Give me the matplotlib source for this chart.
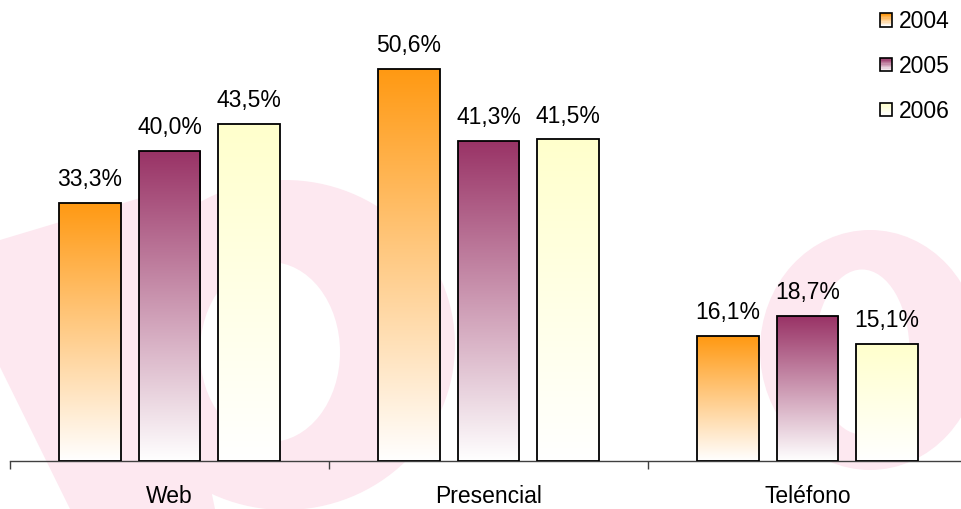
import numpy as np
import matplotlib
matplotlib.use("Agg")
import matplotlib.pyplot as plt
from matplotlib.patches import Rectangle, Polygon, Ellipse, Patch
from matplotlib.legend_handler import HandlerBase
from matplotlib.colors import to_rgb

# ---- data ----
categories = ["Web", "Presencial", "Teléfono"]
years = ["2004", "2005", "2006"]
v2004 = [33.3, 50.6, 16.1]
v2005 = [40.0, 41.3, 18.7]
v2006 = [43.5, 41.5, 15.1]
series = [v2004, v2005, v2006]
top_colors = ["#ff9912", "#993366", "#ffffcc"]

plt.rcParams['font.family'] = ['Liberation Sans', 'DejaVu Sans']
FS = 16.5

fig = plt.figure(figsize=(9.62, 5.09), dpi=100)

# ---- faint watermark background (pixel coordinates) ----
bg = fig.add_axes([0, 0, 1, 1], zorder=-5)
bg.set_xlim(0, 962); bg.set_ylim(509, 0); bg.axis('off')
pink = '#fde8f0'
bg.add_patch(Polygon([(0, 240), (150, 195), (215, 509), (70, 509), (0, 367)],
                     closed=True, fc=pink, ec='none'))
bg.add_patch(Ellipse((285, 345), 340, 330, fc=pink, ec='none'))
bg.add_patch(Ellipse((270, 352), 140, 180, fc='white', ec='none'))
bg.add_patch(Ellipse((870, 350), 220, 240, fc=pink, ec='none'))
bg.add_patch(Ellipse((862, 352), 95, 165, fc='white', ec='none'))

# ---- main axes ----
left_px, right_px = 10, 967
base_px = 461
ax = fig.add_axes([left_px / 962, (509 - base_px) / 509,
                   (right_px - left_px) / 962, base_px / 509], zorder=1)
ax.set_facecolor('none')

x = np.arange(len(categories))
width = 0.194
pitch = 0.25
offsets = [-pitch, 0, pitch]

N = 256
for s, (vals, col, off) in enumerate(zip(series, top_colors, offsets)):
    c = np.array(to_rgb(col))
    t = np.linspace(0, 1, N)[:, None]  # 0 top -> 1 bottom
    grad = c[None, :] * (1 - t) + np.ones(3)[None, :] * t
    img = grad[:, None, :]
    bars = ax.bar(x + off, vals, width, facecolor='none', edgecolor='black',
                  linewidth=1.3, zorder=3)
    for b, v in zip(bars, vals):
        x0 = b.get_x()
        im = ax.imshow(img, extent=[x0, x0 + width, 0, v], aspect='auto',
                       origin='upper', zorder=2, interpolation='bilinear')
        im.set_clip_path(b)
        ax.annotate(f"{v:.1f}%".replace('.', ','), (x0 + width / 2, v),
                    xytext=(0, 8.5), textcoords='offset points',
                    ha='center', va='bottom', fontsize=FS, color='black')

ax.set_xlim(-0.5, 2.5)
ax.set_ylim(0, base_px / 7.75)

for sp in ['top', 'right', 'left']:
    ax.spines[sp].set_visible(False)
ax.spines['bottom'].set_color('#404040')
ax.spines['bottom'].set_linewidth(1.0)
ax.set_yticks([])
ax.set_xticks(x)
ax.set_xticklabels(categories, fontsize=FS)
ax.tick_params(axis='x', which='major', length=0, pad=17)
ax.set_xticks([-0.5, 0.5, 1.5, 2.5], minor=True)
ax.tick_params(axis='x', which='minor', length=6, width=1.0, color='#404040')


class GradHandler(HandlerBase):
    def __init__(self, color):
        super().__init__()
        self.color = np.array(to_rgb(color))

    def create_artists(self, legend, orig_handle, xdescent, ydescent, width,
                       height, fontsize, trans):
        n = 10
        arts = []
        for i in range(n):
            tt = i / (n - 1)  # bottom (white) to top (color)
            col = np.ones(3) * (1 - tt) + self.color * tt
            arts.append(Rectangle((-xdescent, -ydescent + i * height / n), width,
                                  height / n, fc=col, ec='none', transform=trans))
        arts.append(Rectangle((-xdescent, -ydescent), width, height, fill=False,
                              ec='black', lw=1.2, transform=trans))
        return arts


handles = [Patch(facecolor=c, edgecolor='black', label=y)
           for c, y in zip(top_colors, years)]
hmap = {h: GradHandler(c) for h, c in zip(handles, top_colors)}
fig.legend(handles=handles, labels=years, handler_map=hmap,
           loc='upper right', bbox_to_anchor=(950 / 962, 1 - 10 / 509),
           frameon=False, fontsize=FS, borderaxespad=0, borderpad=0,
           handlelength=0.52, handleheight=0.52, handletextpad=0.3,
           labelspacing=0.95)

fig.savefig("out.png", dpi=100)
